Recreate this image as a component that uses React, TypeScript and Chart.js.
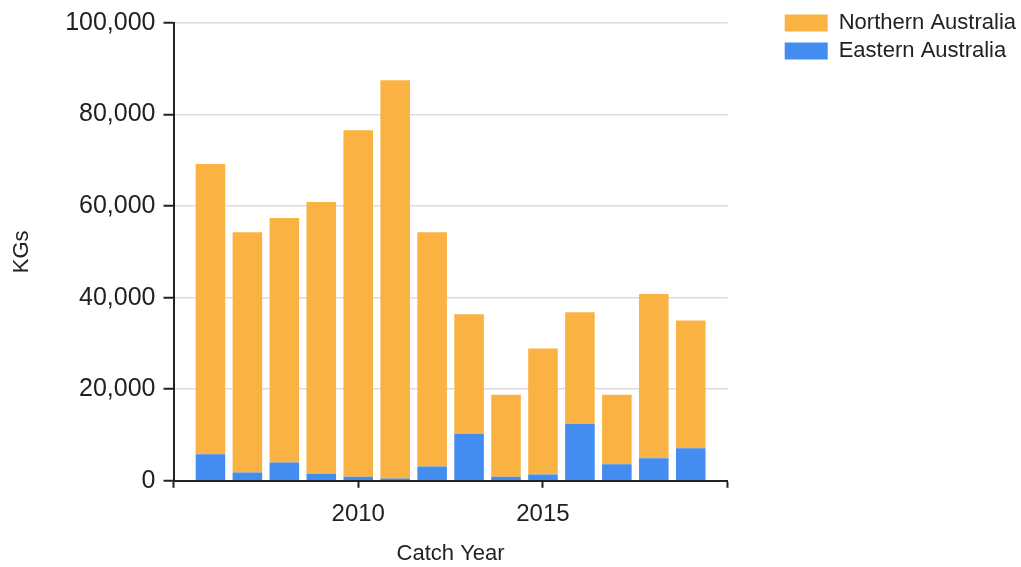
import React, { useEffect, useRef } from "react";
import { Chart, registerables } from "chart.js";

Chart.register(...registerables);

const years = [2006, 2007, 2008, 2009, 2010, 2011, 2012, 2013, 2014, 2015, 2016, 2017, 2018, 2019];
const easternAustralia = [5800, 1800, 4000, 1500, 900, 500, 3100, 10200, 900, 1400, 12400, 3600, 4900, 7100];
const northernAustralia = [63400, 52500, 53400, 59400, 75700, 87000, 51200, 26200, 17900, 27500, 24400, 15200, 35900, 27900];
const xTickLabels = [2010, 2015];

const FONT = "'Liberation Sans', Arial, sans-serif";
const TEXT = "#222222";

export default function App() {
  const ref = useRef<HTMLCanvasElement | null>(null);

  useEffect(() => {
    if (!ref.current) return;
    const chart = new Chart(ref.current, {
      type: "bar",
      data: {
        labels: years,
        datasets: [
          {
            label: "Eastern Australia",
            data: easternAustralia,
            backgroundColor: "#428DEF",
            borderWidth: 0,
          },
          {
            label: "Northern Australia",
            data: northernAustralia,
            backgroundColor: "#FAB243",
            borderWidth: 0,
          },
        ],
      },
      options: {
        responsive: false,
        animation: false,
        layout: { padding: { top: 6, left: 0, right: 0, bottom: 0 } },
        datasets: { bar: { barPercentage: 0.8, categoryPercentage: 1 } },
        plugins: {
          tooltip: { enabled: false },
          legend: {
            position: "right",
            align: "start",
            reverse: true,
            maxWidth: 300,
            labels: {
              boxWidth: 43,
              boxHeight: 17,
              padding: 6,
              color: TEXT,
              font: { family: FONT, size: 22 },
            },
          },
        },
        scales: {
          x: {
            type: "linear",
            stacked: true,
            offset: false,
            min: 2005,
            max: 2020,
            grid: {
              offset: false,
              drawOnChartArea: false,
              drawTicks: true,
              tickLength: 7,
              tickColor: "#222",
              tickWidth: 2,
            },
            border: { display: true, color: "#222", width: 2 },
            ticks: {
              stepSize: 5,
              padding: 12,
              color: TEXT,
              font: { family: FONT, size: 24, lineHeight: 1.2 },
              callback: (v: any) => (xTickLabels.includes(Number(v)) ? String(v) : ""),
            },
            title: {
              display: true,
              text: "Catch Year",
              color: TEXT,
              font: { family: FONT, size: 22, lineHeight: 1.2 },
              padding: { top: 0, bottom: 0 },
            },
          },
          y: {
            stacked: true,
            min: 0,
            max: 100000,
            grid: {
              color: "#dcdcdc",
              lineWidth: 1.5,
              tickLength: 10,
              tickColor: "#222",
              tickWidth: 2,
            },
            border: { display: true, color: "#222", width: 2 },
            ticks: {
              stepSize: 20000,
              padding: 8,
              color: TEXT,
              font: { family: FONT, size: 25, lineHeight: 1.2 },
              callback: (v: any) => Number(v).toLocaleString("en-US"),
            },
            title: {
              display: true,
              text: "KGs",
              color: TEXT,
              font: { family: FONT, size: 22, lineHeight: 1.2 },
              padding: { top: 8.8, bottom: 22 },
            },
            afterFit: (s: any) => {
              s.width = 173.5;
            },
          },
          gap: {
            type: "linear",
            position: "right",
            display: true,
            grid: { display: false, drawTicks: false },
            border: { display: false },
            ticks: { display: false },
            afterFit: (s: any) => {
              s.width = 51;
            },
          },
        },
      },
    });
    return () => chart.destroy();
  }, []);

  return (
    <div style={{ position: "fixed", left: 0, top: 0, width: 1021, height: 567, overflow: "hidden", background: "#fff" }}>
      <canvas ref={ref} width={1026} height={567} style={{ display: "block" }} />
    </div>
  );
}
